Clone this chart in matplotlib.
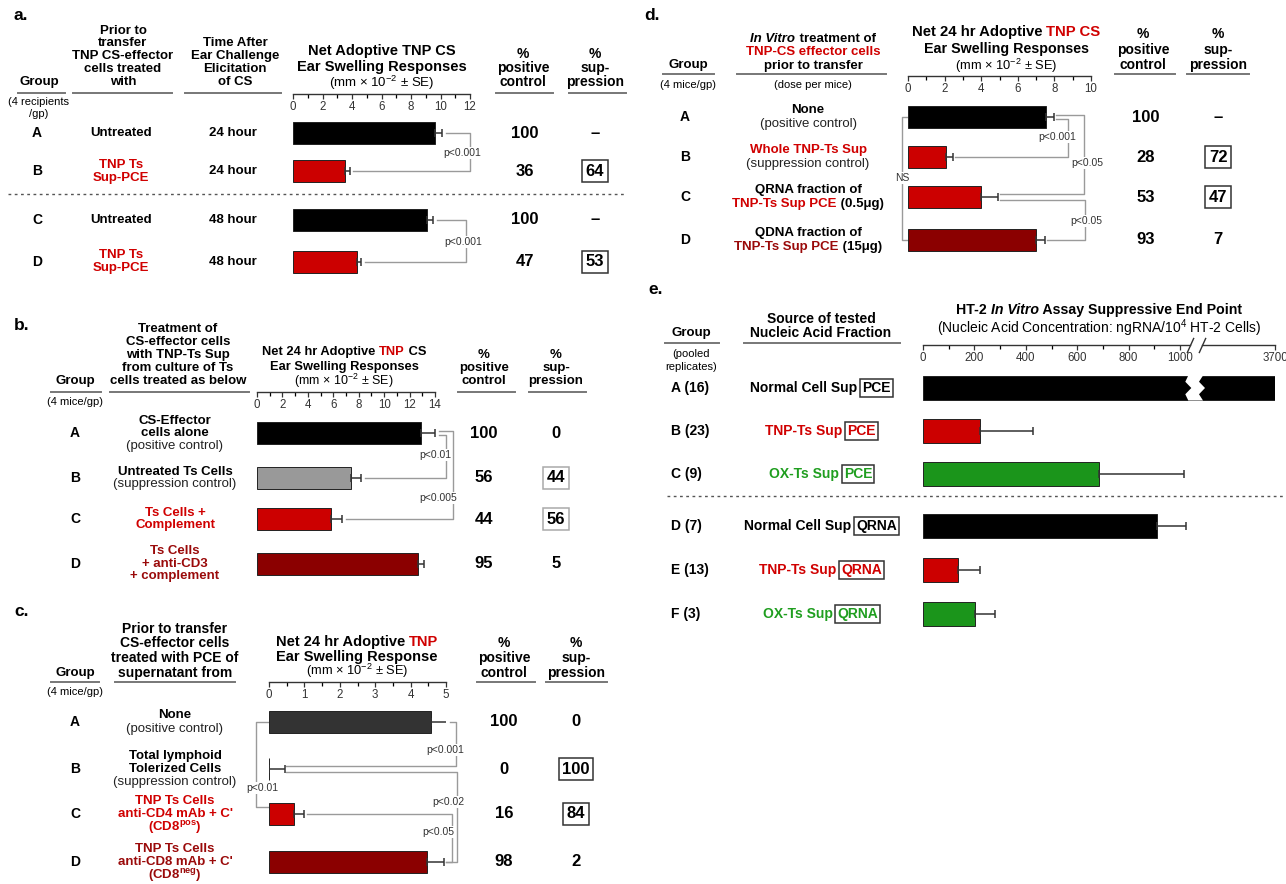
import numpy as np
import matplotlib
matplotlib.use('Agg')
import matplotlib.pyplot as plt
from matplotlib.lines import Line2D
from matplotlib.patches import Polygon
from matplotlib.path import Path

plt.rcParams['font.family'] = ['Liberation Sans', 'DejaVu Sans']
plt.rcParams['mathtext.fontset'] = 'custom'
plt.rcParams['mathtext.rm'] = 'Liberation Sans'
plt.rcParams['mathtext.it'] = 'Liberation Sans:italic'
plt.rcParams['mathtext.bf'] = 'Liberation Sans:bold'

# ---------------- data ----------------
a_groups = ['A', 'B', 'C', 'D']
a_treatment = [['Untreated'], ['TNP Ts', 'Sup-PCE'], ['Untreated'], ['TNP Ts', 'Sup-PCE']]
a_time = ['24 hour', '24 hour', '48 hour', '48 hour']
a_values = [9.6, 3.5, 9.1, 4.35]
a_se = [0.5, 0.35, 0.4, 0.25]
a_positive = ['100', '36', '100', '47']
a_suppression = ['–', '64', '–', '53']
a_boxed = [False, True, False, True]
a_ticks = [0, 2, 4, 6, 8, 10, 12]

b_groups = ['A', 'B', 'C', 'D']
b_treatment = [['CS-Effector', 'cells alone', '(positive control)'],
               ['Untreated Ts Cells', '(suppression control)'],
               ['Ts Cells +', 'Complement'],
               ['Ts Cells', '+ anti-CD3', '+ complement']]
b_values = [12.9, 7.4, 5.8, 12.7]
b_se = [1.1, 0.8, 0.9, 0.4]
b_positive = ['100', '56', '44', '95']
b_suppression = ['0', '44', '56', '5']
b_boxed = [False, True, True, False]
b_ticks = [0, 2, 4, 6, 8, 10, 12, 14]

c_groups = ['A', 'B', 'C', 'D']
c_treatment = [['None', '(positive control)'],
               ['Total lymphoid', 'Tolerized Cells', '(suppression control)'],
               ['TNP Ts Cells', "anti-CD4 mAb + C'", r'(CD8$^{\mathbf{pos}}$)'],
               ['TNP Ts Cells', "anti-CD8 mAb + C'", r'(CD8$^{\mathbf{neg}}$)']]
c_values = [4.57, 0.0, 0.7, 4.45]
c_se = [0.48, 0.44, 0.3, 0.5]
c_positive = ['100', '0', '16', '98']
c_suppression = ['0', '100', '84', '2']
c_boxed = [False, True, True, False]
c_ticks = [0, 1, 2, 3, 4, 5]

d_groups = ['A', 'B', 'C', 'D']
d_line1 = ['None', 'Whole TNP-Ts Sup', 'QRNA fraction of', 'QDNA fraction of']
d_line2 = [('(positive control)', ''), ('(suppression control)', ''),
           ('TNP-Ts Sup PCE', ' (0.5μg)'), ('TNP-Ts Sup PCE', ' (15μg)')]
d_values = [7.56, 2.1, 3.97, 7.0]
d_se = [0.4, 0.38, 0.95, 0.5]
d_positive = ['100', '28', '53', '93']
d_suppression = ['–', '72', '47', '7']
d_boxed = [False, True, True, False]
d_ticks = [0, 2, 4, 6, 8, 10]

e_groups = ['A (16)', 'B (23)', 'C (9)', 'D (7)', 'E (13)', 'F (3)']
e_source = ['Normal Cell Sup', 'TNP-Ts Sup', 'OX-Ts Sup', 'Normal Cell Sup', 'TNP-Ts Sup', 'OX-Ts Sup']
e_fraction = ['PCE', 'PCE', 'PCE', 'QRNA', 'QRNA', 'QRNA']
e_values = [3700, 222, 685, 912, 137, 202]
e_se = [0, 205, 330, 110, 85, 78]
e_ticks = [0, 200, 400, 600, 800, 1000, 3700]

# ---------------- style ----------------
RED = '#cc0000'
DRED = '#8b0000'
GREEN = '#1b951b'
TRED = '#d00000'
TDRED = '#9a0a0a'
TGREEN = '#1f9e1f'
BR = '#9a9a9a'

W, H = 1286, 884
fig = plt.figure(figsize=(W / 100, H / 100), dpi=100)
R = fig.canvas.get_renderer()


def T(x, y, s, size=9.5, weight='bold', color='black', ha='center', style='normal', box=None, pad=0.22):
    bb = None
    if box:
        bb = dict(boxstyle='square,pad=%g' % pad, fc='white', ec=box, lw=1.1)
    return fig.text(x / W, 1 - y / H, s, fontsize=size, fontweight=weight, color=color,
                    ha=ha, va='center', fontstyle=style, bbox=bb)


def measure(s, size, weight, style='normal'):
    t1 = fig.text(0, 0, s + '|', fontsize=size, fontweight=weight, fontstyle=style)
    t2 = fig.text(0, 0, '|', fontsize=size, fontweight=weight, fontstyle=style)
    w = t1.get_window_extent(R).width - t2.get_window_extent(R).width
    t1.remove(); t2.remove()
    return w


def rich(x, y, parts, size=9.5, weight='bold', ha='center'):
    ws = [measure(s, size, weight, st) for s, c, st in parts]
    tot = sum(ws)
    start = x - tot / 2 if ha == 'center' else x
    for (s, c, st), w in zip(parts, ws):
        fig.text(start / W, 1 - y / H, s, fontsize=size, fontweight=weight, fontstyle=st,
                 color=c, ha='left', va='center')
        start += w


def HL(x1, x2, y, color='#777777', lw=1.4, ls='-'):
    fig.add_artist(Line2D([x1 / W, x2 / W], [1 - y / H, 1 - y / H], color=color, lw=lw, ls=ls,
                          transform=fig.transFigure))


def bars(x0, x1, xmax, ytop, ybot, rows, vals, se, colors, h=22, fscale=None):
    ax = fig.add_axes([x0 / W, 1 - ybot / H, (x1 - x0) / W, (ybot - ytop) / H])
    if fscale:
        ax.set_xscale('function', functions=fscale)
    ax.set_xlim(0, xmax)
    ax.set_ylim(ybot, ytop)
    ax.axis('off')
    ax.barh(rows, vals, height=h, color=colors, edgecolor='#222222', linewidth=0.7, zorder=2)
    idx = [i for i, s in enumerate(se) if s > 0]
    ax.errorbar([vals[i] for i in idx], [rows[i] for i in idx],
                xerr=[np.zeros(len(idx)), [se[i] for i in idx]], fmt='none',
                ecolor='#333333', elinewidth=1.1, capsize=2.8, capthick=1.1, zorder=3)
    return ax


def scale(x0, x1, y, xmax, majors, minors, labels=None, fscale=None, bounds=None):
    ax = fig.add_axes([x0 / W, 1 - y / H, (x1 - x0) / W, 1 / H])
    if fscale:
        ax.set_xscale('function', functions=fscale)
    ax.set_xlim(0, xmax)
    for s in ['top', 'left', 'right']:
        ax.spines[s].set_visible(False)
    ax.spines['bottom'].set_color('#333333')
    ax.spines['bottom'].set_linewidth(1.0)
    if bounds:
        ax.spines['bottom'].set_bounds(*bounds)
    ax.set_yticks([])
    ax.set_xticks(majors)
    ax.set_xticklabels(labels if labels else [str(m) for m in majors])
    ax.set_xticks(minors, minor=True)
    ax.tick_params(axis='x', which='major', direction='out', length=3.5, width=0.9, pad=1.5,
                   labelsize=8.3, colors='#333333')
    ax.tick_params(axis='x', which='minor', direction='out', length=3.0, width=0.9)
    ax.patch.set_visible(False)
    return ax


def bracket(ax, xs, ys):
    ax.plot(xs, ys, color=BR, lw=1.0, clip_on=False, zorder=1)


def plabel(ax, x, y, s):
    ax.text(x, y, s, fontsize=7.5, ha='center', va='center', color='#333333', zorder=6,
            bbox=dict(fc='white', ec='none', pad=0.4), clip_on=False)


def label_lines(x, yc, lines, color, spacing=13, size=9.5):
    n = len(lines)
    for k, s in enumerate(lines):
        y = yc + (k - (n - 1) / 2) * spacing
        if s.startswith('(') and 'CD8' not in s:
            T(x, y, s, size=size, weight='normal', color='#222222')
        else:
            T(x, y, s, size=size, color=color)


SUB = r'(mm × 10$^{-2}$ ± SE)'

# ================= panel a =================
T(14, 16, 'a.', size=12.5, ha='left')
T(39, 82, 'Group'); HL(18, 65, 93)
T(39, 102, '(4 recipients', size=8, weight='normal'); T(39, 114, '/gp)', size=8, weight='normal')
for s, y in zip(['Prior to', 'transfer', 'TNP CS-effector', 'cells treated', 'with'], [31, 43, 56, 69, 82]):
    T(123, y, s)
HL(73, 172, 93)
for s, y in zip(['Time After', 'Ear Challenge', 'Elicitation', 'of CS'], [43, 56, 69, 82]):
    T(235, y, s)
HL(185, 281, 93)
T(382, 51, 'Net Adoptive TNP CS', size=10.5)
T(382, 67, 'Ear Swelling Responses', size=10.5)
T(382, 83, SUB, size=9.5, weight='normal')
for s, y in zip(['%', 'positive', 'control'], [54, 68, 82]):
    T(523, y, s, size=10)
HL(496, 553, 93)
for s, y in zip(['%', 'sup-', 'pression'], [54, 68, 82]):
    T(595, y, s, size=10)
HL(569, 626, 93)

ya = [133, 171, 220, 262]
a_cols = ['black', RED, 'black', RED]
a_tcols = ['black', TRED, 'black', TRED]
for i, y in enumerate(ya):
    T(37, y, a_groups[i], size=10)
    label_lines(121, y, a_treatment[i], a_tcols[i])
    T(233, y, a_time[i])
    T(525, y, a_positive[i], size=12)
    T(595, y, a_suppression[i], size=12, box='#333333' if a_boxed[i] else None)
HL(8, 626, 194, color='#555555', lw=1.0, ls=(0, (2, 2.5)))

ax_a = bars(293, 470, 12, 110, 285, ya, a_values, a_se, a_cols)
scale(293, 470, 94, 12, a_ticks, [1, 3, 5, 7, 9, 11])
sA = a_values[0] + a_se[0] + 0.25; sB = a_values[1] + a_se[1] + 0.25
bracket(ax_a, [sA, 12.0, 12.0, sB], [ya[0], ya[0], ya[1], ya[1]])
plabel(ax_a, 11.5, 153, 'p<0.001')
sC = a_values[2] + a_se[2] + 0.25; sD = a_values[3] + a_se[3] + 0.25
bracket(ax_a, [sC, 11.72, 11.72, sD], [ya[2], ya[2], ya[3], ya[3]])
plabel(ax_a, 11.55, 242, 'p<0.001')

# ================= panel b =================
T(14, 326, 'b.', size=12.5, ha='left')
T(75, 381, 'Group'); HL(51, 101, 392)
T(75, 402, '(4 mice/gp)', size=8, weight='normal')
for s, y in zip(['Treatment of', 'CS-effector cells', 'with TNP-Ts Sup', 'from culture of Ts',
                 'cells treated as below'], [329, 342, 355, 368, 381]):
    T(178, y, s)
HL(110, 249, 392)
rich(344, 352, [('Net 24 hr Adoptive ', 'black', 'normal'), ('TNP', TRED, 'normal'),
                (' CS', 'black', 'normal')], size=9.3)
T(344, 367, 'Ear Swelling Responses', size=9.3)
T(344, 381, SUB, size=9, weight='normal')
for s, y in zip(['%', 'positive', 'control'], [355, 368, 381]):
    T(484, y, s, size=9.5)
HL(458, 515, 392)
for s, y in zip(['%', 'sup-', 'pression'], [355, 368, 381]):
    T(556, y, s, size=9.5)
HL(529, 586, 392)

yb = [433, 478, 519, 564]
b_cols = ['black', '#999999', RED, DRED]
b_tcols = ['black', 'black', TRED, TDRED]
for i, y in enumerate(yb):
    T(75, y, b_groups[i], size=10)
    label_lines(175, y, b_treatment[i], b_tcols[i], spacing=12.5)
    T(484, y, b_positive[i], size=12)
    T(556, y, b_suppression[i], size=12, box='#aaaaaa' if b_boxed[i] else None)

ax_b = bars(257, 435, 14, 405, 590, yb, b_values, b_se, b_cols)
scale(257, 435, 392, 14, b_ticks, [1, 3, 5, 7, 9, 11, 13])
sA = b_values[0] + b_se[0] + 0.3; sB = b_values[1] + b_se[1] + 0.3; sC = b_values[2] + b_se[2] + 0.3
bracket(ax_b, [sA, 14.9, 14.9, sB], [yb[0] + 2, yb[0] + 2, yb[1], yb[1]])
bracket(ax_b, [sA, 15.45, 15.45, sC], [yb[0] - 2, yb[0] - 2, yb[2], yb[2]])
plabel(ax_b, 14.0, 455, 'p<0.01')
plabel(ax_b, 14.25, 498, 'p<0.005')

# ================= panel c =================
T(14, 611, 'c.', size=12.5, ha='left')
T(75, 673, 'Group'); HL(51, 99, 682)
T(75, 692, '(4 mice/gp)', size=8, weight='normal')
for s, y in zip(['Prior to transfer', 'CS-effector cells', 'treated with PCE of', 'supernatant from'],
                [629, 643, 658, 673]):
    T(175, y, s, size=10)
HL(115, 235, 682)
rich(357, 642, [('Net 24 hr Adoptive ', 'black', 'normal'), ('TNP', TRED, 'normal')], size=10.5)
T(357, 657, 'Ear Swelling Response', size=10.5)
T(357, 671, SUB, size=9.3, weight='normal')
for s, y in zip(['%', 'positive', 'control'], [643, 658, 673]):
    T(504, y, s, size=10)
HL(477, 535, 682)
for s, y in zip(['%', 'sup-', 'pression'], [643, 658, 673]):
    T(576, y, s, size=10)
HL(546, 607, 682)

yc = [722, 769, 814, 862]
c_cols = ['#333333', 'black', RED, DRED]
c_tcols = ['black', 'black', TRED, TDRED]
for i, y in enumerate(yc):
    T(75, y, c_groups[i], size=10)
    label_lines(175, y, c_treatment[i], c_tcols[i], spacing=13.5)
    T(504, y, c_positive[i], size=12)
    T(576, y, c_suppression[i], size=12, box='#333333' if c_boxed[i] else None)

ax_c = bars(269, 446, 5, 700, 884, yc, c_values, c_se, c_cols)
scale(269, 446, 682, 5, c_ticks, [0.5, 1.5, 2.5, 3.5, 4.5])
sA = c_values[0] + c_se[0] + 0.06; sB = c_values[1] + c_se[1] + 0.05
sC = c_values[2] + c_se[2] + 0.06; sD = c_values[3] + c_se[3] + 0.06
bracket(ax_c, [sA, 5.29, 5.29, sB], [yc[0], yc[0], yc[1] - 3, yc[1] - 3])
bracket(ax_c, [sB, 5.3, 5.3, sD], [yc[1] + 3, yc[1] + 3, yc[3], yc[3]])
bracket(ax_c, [sC, 5.17, 5.17, sD], [yc[2], yc[2], yc[3], yc[3]])
bracket(ax_c, [0, -0.38, -0.38, 0], [yc[0], yc[0], yc[2] - 7, yc[2] - 7])
plabel(ax_c, 4.97, 750, 'p<0.001')
plabel(ax_c, 5.08, 802, 'p<0.02')
plabel(ax_c, 4.77, 832, 'p<0.05')
plabel(ax_c, -0.2, 788, 'p<0.01')

# ================= panel d =================
T(644, 16, 'd.', size=12.5, ha='left')
T(688, 65, 'Group'); HL(663, 714, 74)
T(688, 85, '(4 mice/gp)', size=8, weight='normal')
rich(813, 39, [('In Vitro', 'black', 'italic'), (' treatment of', 'black', 'normal')])
T(813, 52, 'TNP-CS effector cells', color=TRED)
T(813, 66, 'prior to transfer')
HL(737, 886, 74)
T(813, 85, '(dose per mice)', size=8, weight='normal')
rich(1006, 32, [('Net 24 hr Adoptive ', 'black', 'normal'), ('TNP CS', TRED, 'normal')], size=10.7)
T(1006, 49, 'Ear Swelling Responses', size=10.3)
T(1006, 66, SUB, size=9.3, weight='normal')
for s, y in zip(['%', 'positive', 'control'], [34, 50, 65]):
    T(1143, y, s, size=10)
HL(1115, 1175, 74)
for s, y in zip(['%', 'sup-', 'pression'], [34, 50, 65]):
    T(1218, y, s, size=10)
HL(1187, 1249, 74)

yd = [117, 157, 197, 240]
d_cols = ['black', RED, RED, DRED]
d_l1cols = ['black', TRED, 'black', 'black']
d_l2cols = ['black', 'black', TRED, TDRED]
for i, y in enumerate(yd):
    T(685, y, d_groups[i], size=10)
    T(808, y - 7, d_line1[i], color=d_l1cols[i])
    p1, p2 = d_line2[i]
    if p1.startswith('('):
        T(808, y + 7, p1, weight='normal', color='#222222')
    else:
        rich(808, y + 7, [(p1, d_l2cols[i], 'normal'), (p2, 'black', 'normal')])
    T(1146, y, d_positive[i], size=12)
    T(1218, y, d_suppression[i], size=12, box='#333333' if d_boxed[i] else None)

ax_d = bars(908, 1091, 10, 95, 262, yd, d_values, d_se, d_cols)
scale(908, 1091, 76, 10, d_ticks, [1, 3, 5, 7, 9])
sA = d_values[0] + d_se[0] + 0.15; sB = d_values[1] + d_se[1] + 0.1
sC = d_values[2] + d_se[2] + 0.1; sD = d_values[3] + d_se[3] + 0.1
bracket(ax_d, [sA, 8.76, 8.76, sB], [yd[0] + 2, yd[0] + 2, yd[1], yd[1]])
bracket(ax_d, [sA, 9.62, 9.62, sC], [yd[0] - 2, yd[0] - 2, yd[2] - 3, yd[2] - 3])
bracket(ax_d, [sC, 9.66, 9.66, sD], [yd[2] + 3, yd[2] + 3, yd[3], yd[3]])
bracket(ax_d, [0, -0.34, -0.34, 0], [yd[0], yd[0], yd[3], yd[3]])
plabel(ax_d, 8.13, 137, 'p<0.001')
plabel(ax_d, 9.77, 163, 'p<0.05')
plabel(ax_d, 9.73, 221, 'p<0.05')
plabel(ax_d, -0.32, 178, 'NS')

# ================= panel e =================
T(648, 290, 'e.', size=12.5, ha='left')
T(691, 333, 'Group'); HL(665, 719, 343)
T(691, 354, '(pooled', size=8, weight='normal'); T(691, 367, 'replicates)', size=8, weight='normal')
T(821, 319, 'Source of tested', size=10)
T(821, 333, 'Nucleic Acid Fraction', size=10)
HL(744, 900, 343)
rich(1099, 310, [('HT-2 ', 'black', 'normal'), ('In Vitro', 'black', 'italic'),
                 (' Assay Suppressive End Point', 'black', 'normal')], size=10.2)
T(1099, 328, r'(Nucleic Acid Concentration: ngRNA/10$^{4}$ HT-2 Cells)', size=10, weight='normal')

BRK = 1040.0
BRK2 = 1408.0
K = 0.1239


def e_fwd(v):
    v = np.asarray(v, dtype=float)
    return np.where(v <= BRK, v, BRK + (v - BRK) * K)


def e_inv(u):
    u = np.asarray(u, dtype=float)
    return np.where(u <= BRK, u, BRK + (u - BRK) / K)


ye = [388, 431, 474, 526, 570, 614]
e_cols = ['black', RED, GREEN, 'black', RED, GREEN]
e_tcols = ['black', TRED, TGREEN, 'black', TRED, TGREEN]
for i, y in enumerate(ye):
    T(671, y, e_groups[i], size=10, ha='left')
    w1 = measure(e_source[i], 10, 'bold')
    w2 = measure(e_fraction[i], 10, 'bold')
    start = 821 - (w1 + w2 + 6) / 2
    T(start, y, e_source[i], size=10, color=e_tcols[i], ha='left')
    T(start + w1 + 5, y, e_fraction[i], size=10, color=e_tcols[i], ha='left', box='#333333', pad=0.15)
HL(667, 1283, 496, color='#555555', lw=1.0, ls=(0, (2, 2.5)))

ax_e = bars(923, 1275, 3700, 365, 635, ye, e_values, e_se, e_cols, h=24, fscale=(e_fwd, e_inv))
sc_e = scale(923, 1275, 345, 3700, e_ticks, [100, 300, 500, 700, 900],
             fscale=(e_fwd, e_inv), bounds=(0, BRK))
sc_e.plot([BRK2, 3700], [0, 0], color='#333333', lw=1.0, clip_on=False)
slash = Path([(-0.45, -1.0), (0.45, 1.0)], [Path.MOVETO, Path.LINETO])
sc_e.plot([BRK, BRK2], [0, 0], ls='none', marker=slash, markersize=11, mec='#333333', mew=1.0,
          clip_on=False)

# white zig-zag break through bar A
fig.canvas.draw()
bx = ax_e.transData.transform((BRK, ye[0]))
bx2 = ax_e.transData.transform((BRK2, ye[0]))
xl, xr, yy = bx[0] - 2, bx2[0] + 1, bx[1]
hh = 12.5
zz = [(xl, yy + hh), (xl - 3, yy + hh / 2), (xl + 3, yy), (xl - 3, yy - hh / 2), (xl, yy - hh),
      (xr, yy - hh), (xr - 4, yy - hh / 2), (xr + 2, yy), (xr - 4, yy + hh / 2), (xr, yy + hh)]
fig.add_artist(Polygon([(px / W, py / H) for px, py in zz], closed=True, fc='white', ec='none',
                       transform=fig.transFigure, zorder=5))

fig.savefig('out.png', dpi=100)
